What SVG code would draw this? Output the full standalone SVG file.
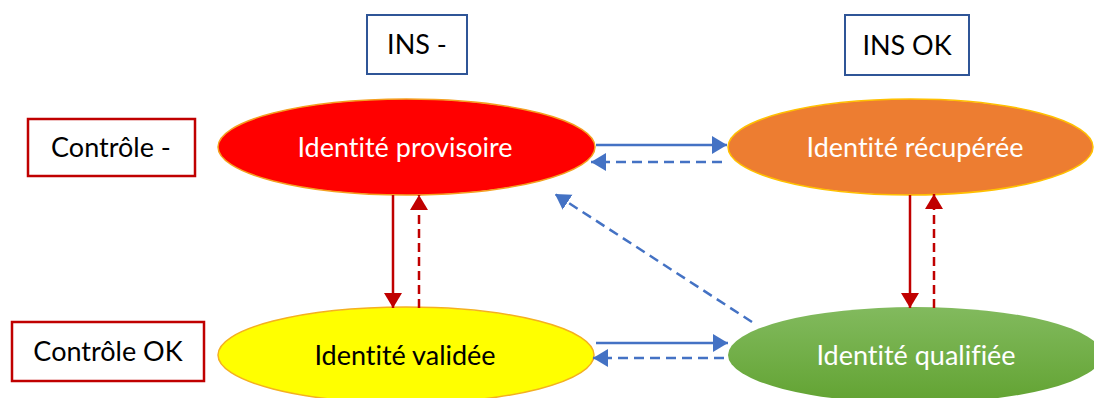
<svg xmlns="http://www.w3.org/2000/svg" width="1094" height="398" viewBox="0 0 1094 398">
  <style>
    .lbl { font-family: Lato, "Open Sans", "Liberation Sans", sans-serif; font-size: 27px; text-anchor: middle; font-variant-ligatures: none; font-feature-settings: "liga" 0; }
    .dark { fill: #000000; }
    .light { fill: #FFFFFF; }
    .boxB { fill: #FFFFFF; stroke: #2F5597; stroke-width: 2; }
    .boxR { fill: #FFFFFF; stroke: #C00000; stroke-width: 2.5; }
    .blue { stroke: #4472C4; stroke-width: 2.5; fill: none; }
    .red { stroke: #C00000; stroke-width: 2.5; fill: none; }
    .dashB { stroke-dasharray: 10 6; }
    .dashR { stroke-dasharray: 9 5; }
  </style>
  <defs>
    <marker id="ab" markerUnits="userSpaceOnUse" markerWidth="17" markerHeight="19" refX="15" refY="9" orient="auto">
      <path d="M0,0 L15,9 L0,18 z" fill="#4472C4"/>
    </marker>
    <marker id="ar" markerUnits="userSpaceOnUse" markerWidth="17" markerHeight="19" refX="15" refY="9" orient="auto">
      <path d="M0,0 L15,9 L0,18 z" fill="#C00000"/>
    </marker>
    <linearGradient id="gGreen" x1="0" y1="0" x2="0" y2="1">
      <stop offset="0" stop-color="#82BA5E"/>
      <stop offset="1" stop-color="#62A332"/>
    </linearGradient>
  </defs>

  <g id="ins-minus">
    <rect class="boxB" x="367" y="15" width="100" height="59"/>
    <text class="lbl dark" x="417" y="54">INS -</text>
  </g>
  <g id="ins-ok">
    <rect class="boxB" x="845" y="15" width="124" height="60"/>
    <text class="lbl dark" x="907" y="55">INS OK</text>
  </g>
  <g id="controle-minus">
    <rect class="boxR" x="28" y="119" width="167" height="57"/>
    <text class="lbl dark" x="111" y="157">Contrôle -</text>
  </g>
  <g id="controle-ok">
    <rect class="boxR" x="12" y="322" width="192" height="59"/>
    <text class="lbl dark" x="108" y="361">Contrôle OK</text>
  </g>

  <g id="provisoire">
    <ellipse cx="406.5" cy="147" rx="188.5" ry="48" fill="#FF0000" stroke="#F4A020" stroke-width="1.5"/>
    <text class="lbl light" x="405" y="157">Identité provisoire</text>
  </g>
  <g id="recuperee">
    <ellipse cx="910.5" cy="147" rx="182.5" ry="48" fill="#ED7D31" stroke="#FFC000" stroke-width="1.5"/>
    <text class="lbl light" x="915" y="157">Identité récupérée</text>
  </g>
  <g id="validee">
    <ellipse cx="406" cy="355" rx="188" ry="48" fill="#FFFF00" stroke="#F4B020" stroke-width="1.5"/>
    <text class="lbl dark" x="405" y="365">Identité validée</text>
  </g>
  <g id="qualifiee">
    <ellipse cx="915" cy="355" rx="187" ry="48" fill="url(#gGreen)"/>
    <text class="lbl light" x="916" y="365">Identité qualifiée</text>
  </g>

  <g id="connectors">
    <line class="blue" x1="596" y1="145" x2="727" y2="145" marker-end="url(#ab)"/>
    <line class="blue dashB" x1="722" y1="162" x2="591" y2="162" marker-end="url(#ab)"/>
    <line class="blue" x1="596" y1="343" x2="728" y2="343" marker-end="url(#ab)"/>
    <line class="blue dashB" x1="724" y1="358" x2="593" y2="358" marker-end="url(#ab)"/>
    <line class="blue dashB" x1="752" y1="322" x2="555" y2="194" marker-end="url(#ab)"/>
    <line class="red" x1="393" y1="195" x2="393" y2="308" marker-end="url(#ar)"/>
    <line class="red dashR" x1="419" y1="308" x2="419" y2="195" marker-end="url(#ar)"/>
    <line class="red" x1="910" y1="195" x2="910" y2="308" marker-end="url(#ar)"/>
    <line class="red dashR" x1="934" y1="308" x2="934" y2="194" marker-end="url(#ar)"/>
  </g>
</svg>
